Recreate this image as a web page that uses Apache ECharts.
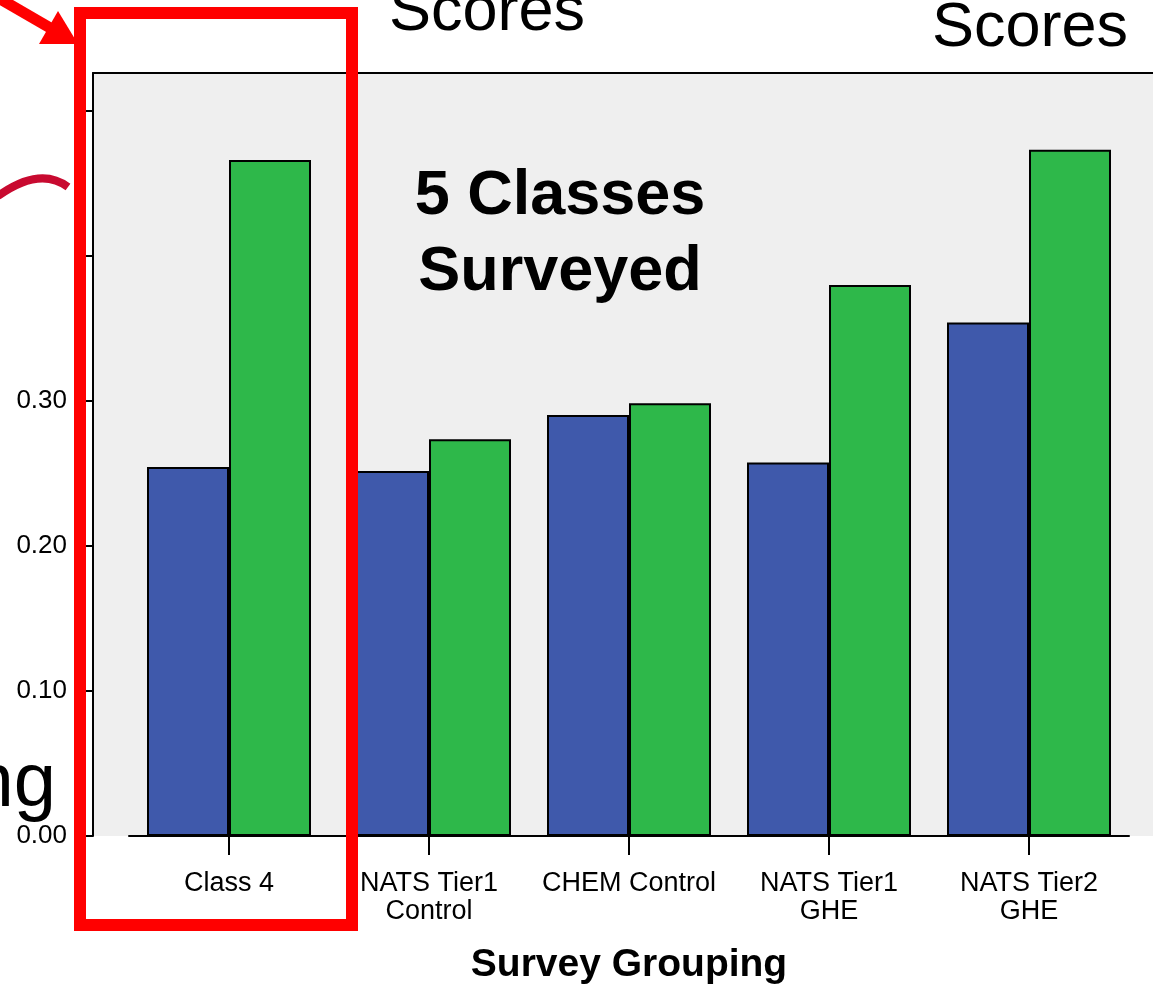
<!DOCTYPE html>
<html>
<head>
<meta charset="utf-8">
<script src="https://cdn.jsdelivr.net/npm/echarts@6/dist/echarts.min.js"></script>
<style>
html,body{margin:0;padding:0;background:#fff;}
#chart{width:1153px;height:985px;}
</style>
</head>
<body>
<div id="chart"></div>
<script>
const categories = ['Class 4', 'NATS Tier1\nControl', 'CHEM Control', 'NATS Tier1\nGHE', 'NATS Tier2\nGHE'];
const seriesBlue = [0.2545, 0.2517, 0.2903, 0.2576, 0.3542];
const seriesGreen = [0.4662, 0.2736, 0.2984, 0.3800, 0.4733];
const yTickLabels = ['0.00', '0.10', '0.20', '0.30'];
const xAxisTitle = 'Survey Grouping';
const FONT = "'Liberation Sans', Arial, sans-serif";

const chart = echarts.init(document.getElementById('chart'), null, {renderer: 'canvas'});

const option = {
  backgroundColor: '#ffffff',
  animation: false,
  grid: [
    {left: 129, right: 24, top: 73, bottom: 149, show: false, containLabel: false, outerBoundsMode: 'none'},
    {left: 93, right: -40, top: 73, bottom: 149, show: true, backgroundColor: '#efefef', borderWidth: 0, containLabel: false, outerBoundsMode: 'none'}
  ],
  xAxis: [
    {
      type: 'category', gridIndex: 0, data: categories,
      boundaryGap: true,
      axisLine: {show: true, onZero: false, lineStyle: {color: '#000', width: 2}},
      axisTick: {show: true, alignWithLabel: true, length: 19, lineStyle: {color: '#000', width: 2}},
      axisLabel: {color: '#000', fontFamily: FONT, fontSize: 27, lineHeight: 28, margin: 34, interval: 0},
      splitLine: {show: false},
      name: xAxisTitle, nameLocation: 'middle', nameGap: 110,
      nameTextStyle: {color: '#000', fontFamily: FONT, fontSize: 39, fontWeight: 'bold'}
    },
    {
      type: 'value', gridIndex: 1, position: 'top', min: 0, max: 1,
      axisLine: {show: true, onZero: false, lineStyle: {color: '#000', width: 2}},
      axisTick: {show: false}, axisLabel: {show: false}, splitLine: {show: false}
    }
  ],
  yAxis: [
    {
      type: 'value', gridIndex: 0, min: 0, max: 0.5262, interval: 0.1,
      show: false, splitLine: {show: false}
    },
    {
      type: 'value', gridIndex: 1, min: 0, max: 0.5262, interval: 0.1,
      axisLine: {show: true, onZero: false, lineStyle: {color: '#000', width: 2}},
      axisTick: {show: true, inside: false, length: 7, lineStyle: {color: '#000', width: 2}},
      axisLabel: {
        color: '#000', fontFamily: FONT, fontSize: 26, margin: 26, showMaxLabel: false,
        formatter: function (v) {
          const idx = Math.round(v * 10);
          if (Math.abs(v * 10 - idx) > 1e-6) return '';
          return idx < yTickLabels.length ? yTickLabels[idx] : '';
        }
      },
      splitLine: {show: false}
    }
  ],
  series: [
    {
      type: 'bar', xAxisIndex: 0, yAxisIndex: 0, data: seriesBlue,
      barWidth: 82, barGap: '0%',
      itemStyle: {color: '#3f59ab', borderColor: '#000', borderWidth: 2},
      z: 3
    },
    {
      type: 'bar', xAxisIndex: 0, yAxisIndex: 0, data: seriesGreen,
      barWidth: 82, barGap: '0%',
      itemStyle: {color: '#2eb84a', borderColor: '#000', borderWidth: 2},
      z: 3
    }
  ],
  graphic: [
    {
      type: 'text', x: 560, y: 235, z: 50,
      style: {text: '5 Classes\nSurveyed', font: 'bold 63px ' + FONT, fill: '#000',
        align: 'center', verticalAlign: 'middle', textAlign: 'center', textVerticalAlign: 'middle', lineHeight: 76}
    },
    {
      type: 'text', x: 487, y: 13, z: 50,
      style: {text: 'Scores', font: '63px ' + FONT, fill: '#000',
        align: 'center', verticalAlign: 'middle', textAlign: 'center', textVerticalAlign: 'middle'}
    },
    {
      type: 'text', x: 1030, y: 29, z: 50,
      style: {text: 'Scores', font: '63px ' + FONT, fill: '#000',
        align: 'center', verticalAlign: 'middle', textAlign: 'center', textVerticalAlign: 'middle'}
    },
    {
      type: 'text', x: 56, y: 785, z: 50,
      style: {text: 'ng', font: '76px ' + FONT, fill: '#000',
        align: 'right', verticalAlign: 'middle', textAlign: 'right', textVerticalAlign: 'middle'}
    },
    {
      type: 'rect', z: 60,
      shape: {x: 80, y: 13, width: 272, height: 912},
      style: {fill: 'none', stroke: '#ff0000', lineWidth: 12}
    },
    {
      type: 'line', z: 60,
      shape: {x1: -10, y1: -7, x2: 52, y2: 29},
      style: {stroke: '#ff0000', lineWidth: 11}
    },
    {
      type: 'polygon', z: 60,
      shape: {points: [[39, 44], [58, 11], [78, 44]]},
      style: {fill: '#ff0000'}
    },
    {
      type: 'bezierCurve', z: 60,
      shape: {x1: -2, y1: 196, cpx1: 40, cpy1: 166, x2: 68, y2: 187},
      style: {stroke: '#c80a30', lineWidth: 8, fill: 'none'}
    }
  ]
};
chart.setOption(option);
</script>
</body>
</html>
